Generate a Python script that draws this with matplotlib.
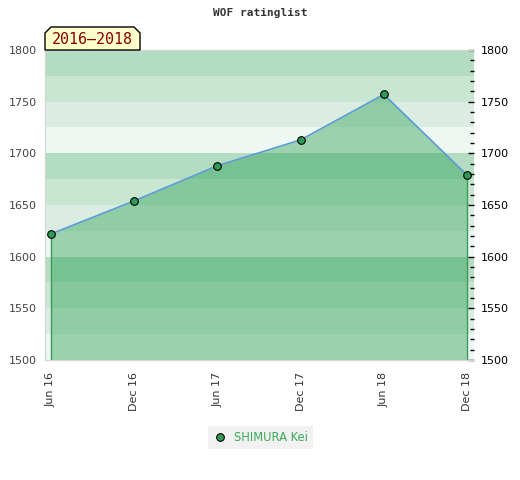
import matplotlib.pyplot as plt
from matplotlib.patches import Polygon
from matplotlib.lines import Line2D
from matplotlib.ticker import MultipleLocator

# data
periods = ["Jun 16", "Dec 16", "Jun 17", "Dec 17", "Jun 18", "Dec 18"]
ratings = [1622, 1654, 1688, 1713, 1757, 1679]
player = "SHIMURA Kei"
span_label = "2016\u20132018"

band_colors = ["#eef7f1", "#dbede2", "#c9e6d3", "#b3dcc2"]  # bottom to top in each 100

fig = plt.figure(figsize=(5.2, 4.8), dpi=100)
ax = fig.add_axes([45 / 520, 1 - 360 / 480, 429 / 520, 310 / 480])

# background stripes every 25 points
for i, lo in enumerate(range(1500, 1800, 25)):
    ax.axhspan(lo, lo + 25, color=band_colors[i % 4], lw=0, zorder=0)

x = list(range(len(periods)))
ax.fill_between(x, ratings, 1500, color="#28a050", alpha=0.42, lw=0, zorder=1)
ax.vlines([x[0], x[-1]], 1500, [ratings[0], ratings[-1]], color="#3a9a5a", lw=1, zorder=2)
ax.plot(x, ratings, color="#5b9bd5", lw=1.2, zorder=3)
ax.plot(x, ratings, "o", ms=5.5, mfc="#2f9a55", mec="black", mew=0.8, zorder=4)

ax.set_xlim(-0.072, 5.084)
ax.set_ylim(1500, 1800)
ax.set_xticks(x)
ax.set_xticklabels(periods, rotation=90, fontsize=8, color="#333333")
ax.tick_params(axis="x", length=0, pad=8.5)

ax.yaxis.set_major_locator(MultipleLocator(50))
ax.tick_params(axis="y", which="both", left=False, right=False, length=0,
               labelsize=8, labelcolor="#444444", pad=6)

# right axis with inward ticks
ax2 = ax.twinx()
ax2.set_ylim(1500, 1800)
ax2.yaxis.set_major_locator(MultipleLocator(50))
ax2.yaxis.set_minor_locator(MultipleLocator(10))
ax2.tick_params(axis="y", which="both", left=False, labelleft=False)
ax2.tick_params(axis="y", which="major", direction="in", length=4, width=1,
                labelsize=8, labelcolor="black", pad=5)
ax2.tick_params(axis="y", which="minor", direction="in", length=3, width=1)

for a in (ax, ax2):
    for side in ("left", "top", "bottom"):
        a.spines[side].set_color("#d6d6d6")
    a.spines["right"].set_visible(False)

fig.text(0.5, 1 - 13 / 480, "WOF ratinglist", ha="center", va="center",
         family="DejaVu Sans Mono", weight="bold", fontsize=8, color="#333333")

# period tag with cut top corners (pixel coords)
px = [(45, 50), (45, 33), (51, 27), (134, 27), (140, 33), (140, 50)]
tag = Polygon([(a / 520, 1 - b / 480) for a, b in px], closed=True,
              transform=fig.transFigure, facecolor="#ffffcc", edgecolor="black", lw=1)
fig.patches.append(tag)
fig.text(92.5 / 520, 1 - 39.5 / 480, span_label, ha="center", va="center",
         family="DejaVu Sans Mono", fontsize=10.8, color="#880000")

handle = Line2D([], [], ls="none", marker="o", ms=5.5, mfc="#2f9a55", mec="black", mew=0.8)
leg = fig.legend([handle], [player], loc="center", bbox_to_anchor=(260.5 / 520, 1 - 437.5 / 480),
                 frameon=True, fontsize=8.3, labelcolor="#3aaa5a", handlelength=1.2,
                 handletextpad=0.6, borderpad=0.45, fancybox=False)
leg.get_frame().set_facecolor("#eeeeee")
leg.get_frame().set_edgecolor("none")

fig.savefig("out.png", dpi=100)
